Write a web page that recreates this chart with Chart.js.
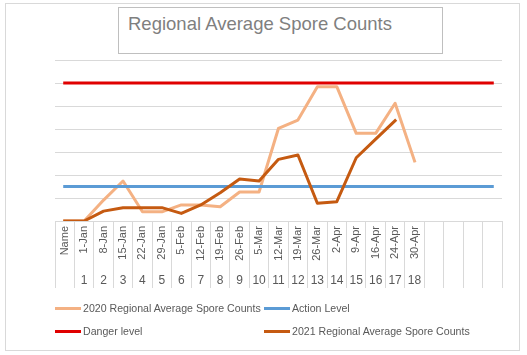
<!DOCTYPE html>
<html>
<head>
<meta charset="utf-8">
<script src="https://cdn.jsdelivr.net/npm/chart.js@4/dist/chart.umd.min.js"></script>
<style>
  html, body { margin: 0; padding: 0; background: #fff; }
  #wrap { position: relative; width: 527px; height: 355px; overflow: hidden; }
  #frame { position: absolute; left: 5px; top: 3px; width: 513px; height: 346px; border: 1px solid #D9D9D9; }
  #c { position: absolute; left: 0; top: 0; }
  #titlebox { position: absolute; left: 118px; top: 7px; width: 325px; height: 47px; border: 1px solid #BFBFBF;
    font-family: "Liberation Sans", Arial, sans-serif; font-size: 18.5px; line-height: 20px; color: #7F7F7F;
    padding: 6px 0 0 9px; box-sizing: border-box; background: #fff; }
  .lg { position: absolute; font-family: "Liberation Sans", Arial, sans-serif; font-size: 10.6px; color: #595959; white-space: nowrap; line-height: 14px; }
  .lg .sw { position: absolute; left: 0; top: 6px; width: 26px; height: 3px; }
  .lg .tx { position: absolute; left: 28px; top: 0; }
</style>
</head>
<body>
<div id="wrap">
  <div id="frame"></div>
  <canvas id="c" width="527" height="355"></canvas>
  <div id="titlebox">Regional Average Spore Counts</div>
  <div id="legend"></div>
</div>
<script>
const categories = ['Name','1-Jan','8-Jan','15-Jan','22-Jan','29-Jan','5-Feb','12-Feb','19-Feb','26-Feb','5-Mar','12-Mar','19-Mar','26-Mar','2-Apr','9-Apr','16-Apr','24-Apr','30-Apr','','','',''];
const weekNumbers = ['','1','2','3','4','5','6','7','8','9','10','11','12','13','14','15','16','17','18','','','',''];
const counts2020 = [0,0,0.91,1.74,0.4,0.4,0.7,0.7,0.62,1.26,1.26,4.03,4.39,5.84,5.84,3.81,3.81,5.12,2.61,null,null,null,null];
const counts2021 = [0,0,0.43,0.58,0.58,0.58,0.33,0.7,1.23,1.83,1.74,2.68,2.87,0.77,0.84,2.75,3.56,4.36,null,null,null,null,null];
const actionLevel = [1.5,1.5,1.5,1.5,1.5,1.5,1.5,1.5,1.5,1.5,1.5,1.5,1.5,1.5,1.5,1.5,1.5,1.5,1.5,1.5,1.5,1.5,1.5];
const dangerLevel = [6,6,6,6,6,6,6,6,6,6,6,6,6,6,6,6,6,6,6,6,6,6,6];

const FONT = '"Liberation Sans", Arial, sans-serif';
const GRID = '#D9D9D9';

const datasets = [
  { label: '2020 Regional Average Spore Counts', data: counts2020, borderColor: '#F4B183', order: 3 },
  { label: 'Action Level', data: actionLevel, borderColor: '#5B9BD5', order: 2 },
  { label: 'Danger level', data: dangerLevel, borderColor: '#E00000', order: 1 },
  { label: '2021 Regional Average Spore Counts', data: counts2021, borderColor: '#C55A11', order: 0 }
].map(d => Object.assign({
  borderWidth: 3, pointRadius: 0, tension: 0, fill: false, spanGaps: false,
  borderJoinStyle: 'round', borderCapStyle: 'square', xAxisID: 'x', yAxisID: 'y'
}, d));

const chart = new Chart(document.getElementById('c'), {
  type: 'line',
  data: { labels: categories, datasets: datasets },
  options: {
    responsive: false, animation: false, devicePixelRatio: 1,
    layout: { padding: { left: 55, right: 25, top: 60, bottom: 67 } },
    plugins: { legend: { display: false }, title: { display: false }, tooltip: { enabled: false } },
    scales: {
      y: {
        min: 0, max: 7,
        ticks: { display: false, stepSize: 1 },
        grid: { color: GRID, lineWidth: 1, drawTicks: false },
        border: { display: false }
      },
      x: {
        type: 'category', position: 'bottom', offset: true,
        labels: categories,
        grid: { offset: true, drawOnChartArea: false, drawTicks: true, tickLength: 67, color: GRID, lineWidth: 1 },
        border: { display: true, color: GRID, width: 1 },
        ticks: { autoSkip: false, minRotation: 90, maxRotation: 90, padding: -62, color: '#595959', font: { family: FONT, size: 11 } },
        afterFit: s => { s.height = 45; }
      },
      x2: {
        type: 'category', position: 'bottom', offset: true,
        labels: weekNumbers,
        grid: { display: false, drawTicks: false, drawOnChartArea: false },
        border: { display: false },
        ticks: { autoSkip: false, minRotation: 0, maxRotation: 0, padding: 7, color: '#595959', font: { family: FONT, size: 12 } },
        afterFit: s => { s.height = 22; }
      }
    }
  }
});

// HTML legend built from the chart's datasets (2 columns)
const lg = document.getElementById('legend');
const colX = [55, 264];
const rowY = [301, 324];
chart.data.datasets.forEach((ds, i) => {
  const el = document.createElement('div');
  el.className = 'lg';
  el.style.left = colX[i % 2] + 'px';
  el.style.top = rowY[Math.floor(i / 2)] + 'px';
  el.innerHTML = '<span class="sw" style="background:' + ds.borderColor + '"></span><span class="tx"></span>';
  el.querySelector('.tx').textContent = ds.label;
  lg.appendChild(el);
});
</script>
</body>
</html>
